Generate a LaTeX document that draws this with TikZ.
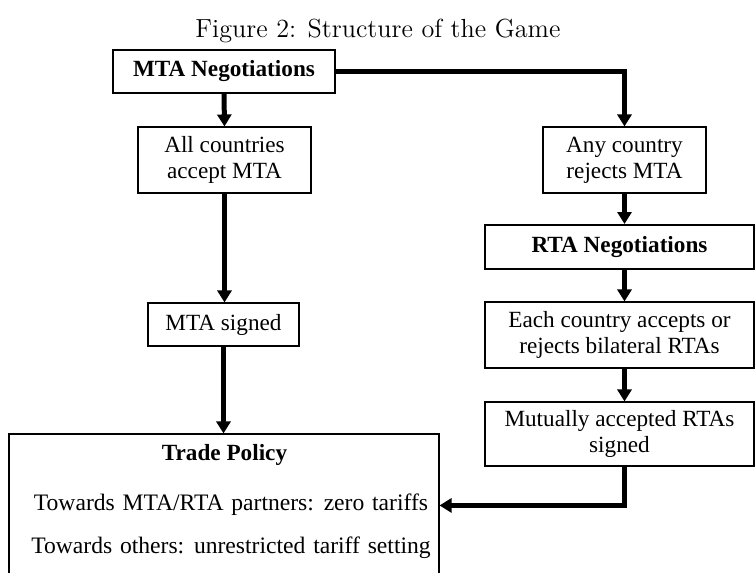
\documentclass[tikz,border=0pt]{standalone}
\usepackage{fontspec}
\usepackage{graphicx}
\newfontfamily\tnr{Liberation Serif}
\newcommand{\widesp}{\spaceskip=7.8pt plus 1pt\relax}
\usetikzlibrary{arrows.meta,calc}
\begin{document}
\begin{tikzpicture}[x=1pt,y=1pt,
  txt/.style={font=\tnr\fontsize{23.2}{26}\selectfont},
  btxt/.style={font=\tnr\bfseries\fontsize{23.2}{26}\selectfont},
  wtxt/.style={font=\tnr\fontsize{23.6}{26}\selectfont},
  box/.style={txt,draw,line width=1.1pt,inner sep=0pt,align=center},
  boldbox/.style={btxt,draw,line width=2pt,inner sep=0pt,align=center},
  arr/.style={line width=5pt,-{Triangle[length=12pt,width=14pt]}}]
\useasboundingbox (0,0) rectangle (756,-573);
\clip (0,0) rectangle (756,-573);
\node[anchor=base] (title) at (378,-37) {\resizebox{365pt}{!}{\fontsize{12}{14}\selectfont Figure 2: Structure of the Game}};
\node[boldbox,minimum width=222pt,minimum height=43pt] (mta) at (224,-71.5) {MTA Negotiations};
\node[box,minimum width=173pt,minimum height=66pt] (all) at (224.5,-160) {All countries\\accept MTA};
\node[box,minimum width=163pt,minimum height=66pt] (any) at (624.5,-160) {Any country\\rejects MTA};
\node[boldbox,minimum width=269pt,minimum height=44pt] (rta) at (619.5,-247) {RTA Negotiations};
\node[box,minimum width=269pt,minimum height=66pt] (each) at (619.5,-335) {Each country accepts or\\rejects bilateral RTAs};
\node[box,minimum width=269pt,minimum height=64pt] (mut) at (619.5,-434) {Mutually accepted RTAs\\signed};
\node[box,minimum width=151pt,minimum height=43pt] (signed) at (223.5,-324.5) {MTA signed};
\node[box,minimum width=430pt,minimum height=206pt] (trade) at (224,-537) {};
\node[btxt,anchor=base] (tp) at (224.5,-460) {Trade Policy};
\node[wtxt,anchor=base] (t1) at (231,-510) {\widesp Towards MTA/RTA partners: zero tariffs};
\node[wtxt,anchor=base] (t2) at (231,-553) {\widesp Towards others: unrestricted tariff setting};
\draw[arr] (mta.south) -- (all.north);
\draw[arr] (mta.east) -| (any.north);
\draw[arr] (any.south) -- (any.south |- rta.north);
\draw[arr] (rta.south -| any.south) -- (each.north -| any.south);
\draw[arr] (each.south -| any.south) -- (mut.north -| any.south);
\draw[arr] (mut.south -| any.south) |- ([yshift=-72pt]trade.north east);
\draw[arr] (all.south) -- (signed.north -| all.south);
\draw[arr] (signed.south) -- (trade.north -| signed.south);
\end{tikzpicture}
\end{document}
